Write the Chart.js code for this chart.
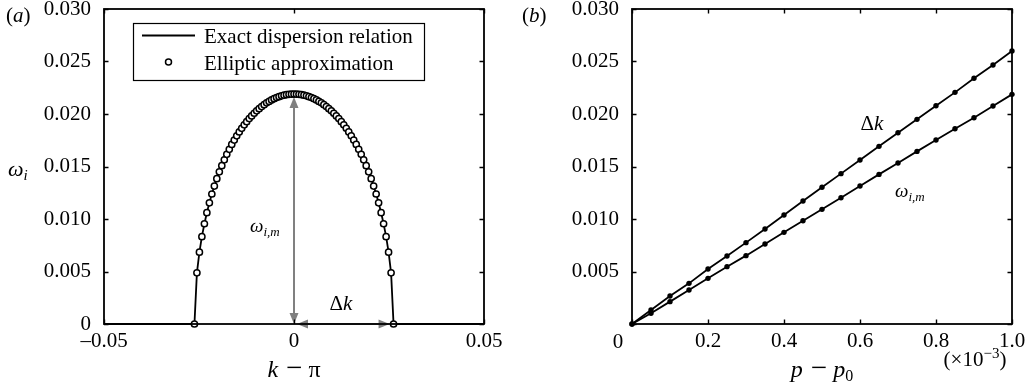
<!DOCTYPE html>
<html>
<head>
<meta charset="utf-8">
<script src="https://cdn.jsdelivr.net/npm/chart.js@4/dist/chart.umd.min.js"></script>
<style>
  html, body { margin: 0; padding: 0; background: #fff; }
  #wrap { position: relative; width: 1030px; height: 385px; }
  canvas { position: absolute; top: 0; }
  #chartA { left: 0; }
  #chartB { left: 515px; }
</style>
</head>
<body>
<div id="wrap">
  <canvas id="chartA" width="515" height="385"></canvas>
  <canvas id="chartB" width="515" height="385"></canvas>
</div>
<script>
// ---- panel (a): omega_i against k - pi ----
const ellipseK = [
  -0.02620, -0.02555, -0.02489, -0.02424, -0.02358, -0.02293, -0.02227, -0.02162, -0.02096, -0.02031,
  -0.01965, -0.01900, -0.01834, -0.01769, -0.01703, -0.01638, -0.01572, -0.01507, -0.01441, -0.01376,
  -0.01310, -0.01245, -0.01179, -0.01114, -0.01048, -0.00983, -0.00917, -0.00852, -0.00786, -0.00721,
  -0.00655, -0.00590, -0.00524, -0.00459, -0.00393, -0.00328, -0.00262, -0.00197, -0.00131, -0.00066,
  0,
  0.00066, 0.00131, 0.00197, 0.00262, 0.00328, 0.00393, 0.00459, 0.00524, 0.00590, 0.00655,
  0.00721, 0.00786, 0.00852, 0.00917, 0.00983, 0.01048, 0.01114, 0.01179, 0.01245, 0.01310,
  0.01376, 0.01441, 0.01507, 0.01572, 0.01638, 0.01703, 0.01769, 0.01834, 0.01900, 0.01965,
  0.02031, 0.02096, 0.02162, 0.02227, 0.02293, 0.02358, 0.02424, 0.02489, 0.02555, 0.02620
];
const ellipseW = [
  0, 0.00487, 0.00684, 0.00832, 0.00955, 0.01060, 0.01154, 0.01238, 0.01314, 0.01384,
  0.01449, 0.01508, 0.01564, 0.01616, 0.01664, 0.01710, 0.01752, 0.01792, 0.01829, 0.01864,
  0.01897, 0.01927, 0.01956, 0.01982, 0.02007, 0.02030, 0.02051, 0.02071, 0.02089, 0.02106,
  0.02120, 0.02134, 0.02146, 0.02156, 0.02165, 0.02173, 0.02179, 0.02184, 0.02187, 0.02189,
  0.02190,
  0.02189, 0.02187, 0.02184, 0.02179, 0.02173, 0.02165, 0.02156, 0.02146, 0.02134, 0.02120,
  0.02106, 0.02089, 0.02071, 0.02051, 0.02030, 0.02007, 0.01982, 0.01956, 0.01927, 0.01897,
  0.01864, 0.01829, 0.01792, 0.01752, 0.01710, 0.01664, 0.01616, 0.01564, 0.01508, 0.01449,
  0.01384, 0.01314, 0.01238, 0.01154, 0.01060, 0.00955, 0.00832, 0.00684, 0.00487, 0
];
// exact relation is flat (zero) outside the unstable band
const bandEndsK = [-0.05, 0.05];
// grey arrows: peak growth rate and half-width of the band
const omegaArrow = [[0, 0], [0, 0.0219]];
const deltaArrow = [[0, 0], [0.0262, 0]];

// ---- panel (b): growth against p - p0 (x 10^-3) ----
const pShift = [0, 0.05, 0.10, 0.15, 0.20, 0.25, 0.30, 0.35, 0.40, 0.45, 0.50,
                0.55, 0.60, 0.65, 0.70, 0.75, 0.80, 0.85, 0.90, 0.95, 1.00];
const deltaK = [0, 0.00133, 0.00267, 0.00387, 0.00524, 0.00648, 0.00775, 0.00905, 0.01038, 0.01171, 0.01302,
                0.01432, 0.01562, 0.01692, 0.01822, 0.01949, 0.02079, 0.02206, 0.02340, 0.02467, 0.02600];
const omegaIM = [0, 0.00102, 0.00213, 0.00324, 0.00435, 0.00546, 0.00651, 0.00762, 0.00873, 0.00984, 0.01092,
                 0.01203, 0.01314, 0.01425, 0.01533, 0.01644, 0.01752, 0.01860, 0.01965, 0.02076, 0.02187];

const SERIF = '"Liberation Serif", "Times New Roman", Times, serif';
const GRAY  = '#808080';
const TICK_FONT = { family: SERIF, size: 21 };

function fnt(size, italic) {
  return (italic ? 'italic ' : '') + size + 'px ' + SERIF;
}

// parts: [text, size, italic, dy, gapAfter]
function richText(ctx, x, y, parts, align) {
  let w = 0;
  for (const p of parts) {
    ctx.font = fnt(p[1], p[2]);
    w += ctx.measureText(p[0]).width + (p[4] || 0);
  }
  let cx = align === 'center' ? x - w / 2 : (align === 'right' ? x - w : x);
  ctx.textAlign = 'left';
  ctx.textBaseline = 'alphabetic';
  ctx.fillStyle = '#000';
  for (const p of parts) {
    ctx.font = fnt(p[1], p[2]);
    ctx.fillText(p[0], cx, y + (p[3] || 0));
    cx += ctx.measureText(p[0]).width + (p[4] || 0);
  }
}

function frameAndTicks(chart) {
  const { ctx, chartArea: a, scales: { x, y } } = chart;
  const len = 4.5;
  ctx.save();
  ctx.strokeStyle = '#000';
  ctx.lineWidth = 1.4;
  ctx.beginPath();
  x.ticks.forEach(t => {
    const px = Math.round(x.getPixelForValue(t.value)) + 0.5;
    ctx.moveTo(px, a.bottom); ctx.lineTo(px, a.bottom - len);
    ctx.moveTo(px, a.top);    ctx.lineTo(px, a.top + len);
  });
  y.ticks.forEach(t => {
    const py = Math.round(y.getPixelForValue(t.value)) + 0.5;
    ctx.moveTo(a.left, py);  ctx.lineTo(a.left + len, py);
    ctx.moveTo(a.right, py); ctx.lineTo(a.right - len, py);
  });
  ctx.stroke();
  ctx.lineWidth = 1.8;
  ctx.strokeRect(a.left, a.top, a.right - a.left, a.bottom - a.top);
  ctx.restore();
}

function arrowHead(ctx, tx, ty, dx, dy) {
  const L = 11, H = 4.5;
  const bx = tx - dx * L, by = ty - dy * L;
  ctx.beginPath();
  ctx.moveTo(tx, ty);
  ctx.lineTo(bx - dy * H, by + dx * H);
  ctx.lineTo(bx + dy * H, by - dx * H);
  ctx.closePath();
  ctx.fill();
}

function drawArrow(chart, pts, trim) {
  const { ctx, scales: { x, y } } = chart;
  let x0 = x.getPixelForValue(pts[0][0]), y0 = y.getPixelForValue(pts[0][1]);
  let x1 = x.getPixelForValue(pts[1][0]), y1 = y.getPixelForValue(pts[1][1]);
  const d = Math.hypot(x1 - x0, y1 - y0), ux = (x1 - x0) / d, uy = (y1 - y0) / d;
  x0 += ux * trim[0]; y0 += uy * trim[0];
  x1 -= ux * trim[1]; y1 -= uy * trim[1];
  ctx.save();
  ctx.strokeStyle = GRAY;
  ctx.fillStyle = GRAY;
  ctx.lineWidth = 2;
  ctx.beginPath();
  ctx.moveTo(x0 + ux * 8, y0 + uy * 8);
  ctx.lineTo(x1 - ux * 8, y1 - uy * 8);
  ctx.stroke();
  arrowHead(ctx, x1, y1, ux, uy);
  arrowHead(ctx, x0, y0, -ux, -uy);
  ctx.restore();
}

function scaleOpts(min, max, step, cb, fit) {
  return {
    type: 'linear', min, max,
    grid: { display: false, drawTicks: false },
    border: { display: false },
    ticks: { stepSize: step, color: '#000', font: TICK_FONT, autoSkip: false, maxRotation: 0, callback: cb },
    afterFit: fit,
  };
}

function baseOptions(xs, ys, padRight) {
  return {
    responsive: false,
    animation: false,
    devicePixelRatio: 1,
    layout: { padding: { top: 9, right: padRight, left: 0, bottom: 0 } },
    plugins: { legend: { display: false }, tooltip: { enabled: false } },
    scales: { x: xs, y: ys },
  };
}

const fitX = s => { s.height = 61; s.paddingLeft = 0; s.paddingRight = 0; };

// ---------------- panel (a) ----------------
const ellipsePts = ellipseK.map((k, i) => ({ x: k, y: ellipseW[i] }));
const exactPts = [{ x: bandEndsK[0], y: 0 }, ...ellipsePts, { x: bandEndsK[1], y: 0 }];

const xA = scaleOpts(-0.05, 0.05, 0.05,
  v => v === 0 ? '0' : (v < 0 ? '\u2013' : '') + Math.abs(v).toFixed(2), fitX);
xA.ticks.padding = 5;
const yA = scaleOpts(0, 0.03, 0.005, v => v === 0 ? '0' : v.toFixed(3),
  s => { s.width = 104; s.paddingTop = 0; s.paddingBottom = 0; });
yA.ticks.padding = 13;

new Chart(document.getElementById('chartA'), {
  type: 'scatter',
  data: {
    datasets: [
      {
        label: 'Exact dispersion relation',
        data: exactPts,
        showLine: true,
        borderColor: '#000',
        borderWidth: 1.8,
        pointRadius: 0,
        clip: false,
        order: 2,
      },
      {
        label: 'Elliptic approximation',
        data: ellipsePts,
        showLine: false,
        pointRadius: 3.1,
        pointBorderWidth: 1.5,
        pointBorderColor: '#000',
        pointBackgroundColor: '#fff',
        clip: false,
        order: 1,
      },
    ],
  },
  options: baseOptions(xA, yA, 31),
  plugins: [{
    id: 'decoA',
    beforeDatasetsDraw(chart) {
      drawArrow(chart, omegaArrow, [0, 3]);
      drawArrow(chart, deltaArrow, [3, 4]);
    },
    afterDatasetsDraw(chart) {
      frameAndTicks(chart);
    },
    afterDraw(chart) {
      const ctx = chart.ctx;
      ctx.save();
      // legend box
      ctx.fillStyle = '#fff';
      ctx.fillRect(133, 23, 291, 57);
      ctx.strokeStyle = '#000';
      ctx.lineWidth = 1.2;
      ctx.strokeRect(133.5, 23.5, 291, 57);
      ctx.lineWidth = 2.2;
      ctx.beginPath();
      ctx.moveTo(142, 35.5); ctx.lineTo(195, 35.5);
      ctx.stroke();
      ctx.lineWidth = 1.5;
      ctx.beginPath();
      ctx.arc(168.5, 62, 3, 0, Math.PI * 2);
      ctx.fillStyle = '#fff';
      ctx.fill();
      ctx.stroke();
      richText(ctx, 204, 43, [['Exact dispersion relation', 21, false]], 'left');
      richText(ctx, 204, 70, [['Elliptic approximation', 21, false]], 'left');
      // panel tag and axis titles
      richText(ctx, 6, 22, [['(', 21, false], ['a', 21, true], [')', 21, false]], 'left');
      richText(ctx, 8, 176, [['\u03c9', 22, true], ['i', 15, true, 4]], 'left');
      richText(ctx, 294, 377, [['k', 24, true, 0, 8], ['\u2212', 29, false, 0, 6], ['\u03c0', 24, false]], 'center');
      // annotations
      richText(ctx, 250, 232, [['\u03c9', 19, true], ['i,m', 13, true, 4]], 'left');
      richText(ctx, 341, 310, [['\u0394', 21, false], ['k', 21, true]], 'center');
      ctx.restore();
    },
  }],
});

// ---------------- panel (b) ----------------
const xB = scaleOpts(0, 1.0, 0.2, v => v === 0 ? '' : v.toFixed(1), fitX);
xB.ticks.padding = 5;
const yB = scaleOpts(0, 0.03, 0.005, v => v === 0 ? '' : v.toFixed(3),
  s => { s.width = 117; s.paddingTop = 0; s.paddingBottom = 0; });
yB.ticks.padding = 13;

const lineStyle = {
  showLine: true,
  borderColor: '#000',
  borderWidth: 1.8,
  pointRadius: 2.7,
  pointBorderWidth: 0,
  pointBackgroundColor: '#000',
  clip: false,
};

new Chart(document.getElementById('chartB'), {
  type: 'scatter',
  data: {
    datasets: [
      { label: '\u0394k', data: pShift.map((p, i) => ({ x: p, y: deltaK[i] })), ...lineStyle },
      { label: '\u03c9i,m', data: pShift.map((p, i) => ({ x: p, y: omegaIM[i] })), ...lineStyle },
    ],
  },
  options: baseOptions(xB, yB, 18),
  plugins: [{
    id: 'decoB',
    afterDatasetsDraw(chart) {
      frameAndTicks(chart);
    },
    afterDraw(chart) {
      const ctx = chart.ctx;
      ctx.save();
      ctx.font = fnt(21, false);
      ctx.fillStyle = '#000';
      ctx.textAlign = 'center';
      ctx.textBaseline = 'middle';
      ctx.fillText('0', 103, 342);
      richText(ctx, 7, 22, [['(', 21, false], ['b', 21, true], [')', 21, false]], 'left');
      richText(ctx, 307, 377, [['p', 24, true, 0, 8], ['\u2212', 29, false, 0, 6], ['p', 24, true], ['0', 16, false, 4]], 'center');
      richText(ctx, 460, 366, [['(\u00d710', 21, false], ['\u22123', 15, false, -8], [')', 21, false]], 'center');
      richText(ctx, 357, 130, [['\u0394', 21, false], ['k', 21, true]], 'center');
      richText(ctx, 380, 197, [['\u03c9', 19, true], ['i,m', 13, true, 4]], 'left');
      ctx.restore();
    },
  }],
});
</script>
</body>
</html>
